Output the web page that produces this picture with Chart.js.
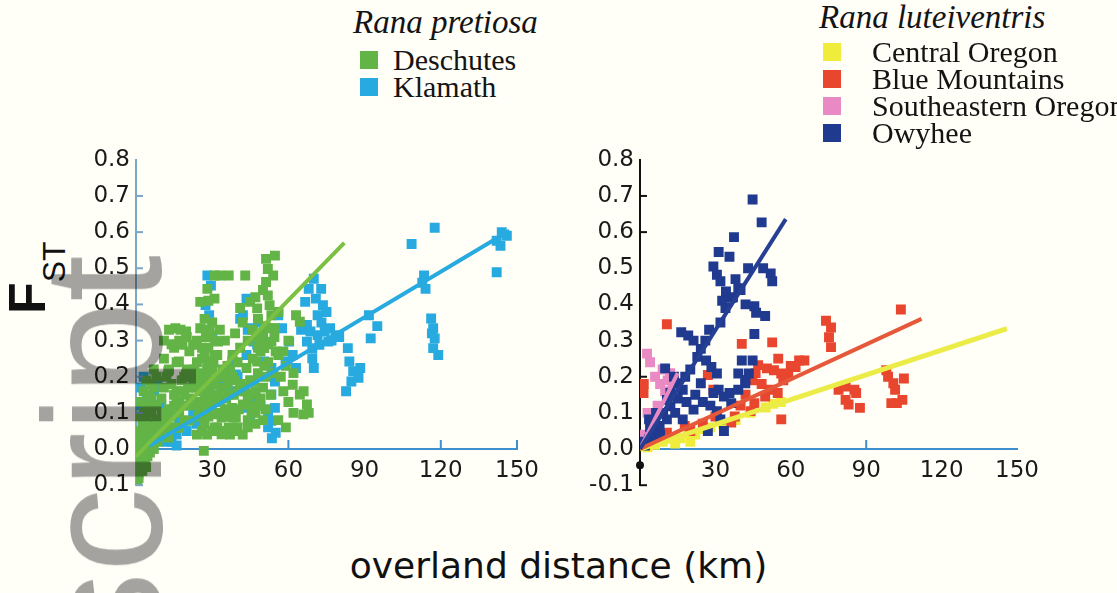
<!DOCTYPE html>
<html>
<head>
<meta charset="utf-8">
<title>FST vs overland distance</title>
<script src="https://cdn.jsdelivr.net/npm/chart.js@4.4.1/dist/chart.umd.min.js"></script>
<style>
  html, body { margin: 0; padding: 0; }
  body { width: 1117px; height: 593px; background: #fffef7; position: relative; overflow: hidden; }
  canvas { position: absolute; }
  #left { left: 80px; top: 140px; }
  #right { left: 584px; top: 140px; }
  .lg { position: absolute; white-space: nowrap; color: #141414; font-family: "Liberation Serif", serif; }
  .lg-title { font-style: italic; font-size: 33px; line-height: 34px; }
  .lg-item { font-size: 30px; line-height: 30px; }
  .sw { position: absolute; width: 18px; height: 18px; }
  #xtitle { position: absolute; left: 0; width: 1117px; top: 546px; text-align: center; font-family: "DejaVu Sans", sans-serif; font-size: 36px; line-height: 40px; color: #111; }
  #ytitle { position: absolute; left: 0; top: 0; white-space: nowrap; font-family: "Liberation Sans", sans-serif; line-height: 1; color: #111;
            transform-origin: 0 0; transform: translate(1px, 314px) rotate(-90deg); }
  #ytitle .f { font-weight: bold; font-size: 52px; }
  #ytitle .st { font-size: 32px; position: relative; top: 20px; }
  #mark { position: absolute; left: 0; top: 0; white-space: nowrap; font-family: "Liberation Sans", sans-serif; font-size: 168px; line-height: 1;
          color: #a4a4a4; mix-blend-mode: multiply; transform-origin: 0 0; transform: translate(19px, 255px) rotate(-90deg) translateX(-100%); }
</style>
</head>
<body>
<canvas id="left" width="467" height="365"></canvas>
<canvas id="right" width="463" height="365"></canvas>
<div id="xtitle">overland distance (km)</div>
<div id="ytitle"><span class="f">F</span><span class="st">ST</span></div>
<div id="mark">Author Manuscript</div>
<script>
// axis ticks
const distTicks = [30, 60, 90, 120, 150];
const fstTicks = [-0.1, 0, 0.1, 0.2, 0.3, 0.4, 0.5, 0.6, 0.7, 0.8];

// Rana pretiosa
const pretiosaNames = ['Deschutes', 'Klamath'];
const pretiosaColors = ['#62b446', '#27aadf'];

const deschutes = [
  [0.5,-0.09],[1,-0.07],[1.5,-0.05],[1,-0.03],[2,-0.01],[0.5,0.0],[2.5,0.01],[1.5,0.02],[3,0.03],[2,0.04],
  [1,0.05],[3.5,0.06],[2.5,0.07],[4,0.08],[1.5,0.09],[3,0.1],[5,0.11],[4,0.12],[2,0.13],[6,0.14],
  [5,0.15],[3,0.16],[7,0.17],[6,0.18],[4,0.19],[8,0.2],[7,0.22],[5.5,0.04],[6.5,0.06],[4.5,-0.02],
  [3.5,-0.04],[2,-0.06],[5,0.0],[7,0.02],[8,0.05],[9,0.08],[6,0.1],[8,0.12],
  [1,-0.08],[2.5,-0.06],[4,-0.05],[3,-0.02],[5.5,-0.01],[7,0.0],[6,0.03],[8.5,0.02],[10,0.04],[9,0.06],
  [11,0.07],[13,0.06],[12,0.1],[14,0.09],[15,0.12],[17,0.13],[16,0.16],[18.5,0.12],[19,0.15],[20.5,0.17],
  [21.5,0.13],[22,0.2],[23,0.17],[20,0.22],[18,0.19],[10,0.1],[8,0.08],
  [10,0.14],[11,0.17],[12,0.2],[13,0.22],[11,0.25],[14,0.18],[15,0.15],[16,0.13],[13,0.11],[12,0.08],
  [14,0.06],[17,0.1],[18,0.16],[19,0.2],[16,0.24],[15,0.28],[17,0.3],[15.5,0.334],[19.7,0.325],[18.3,0.288],
  [16.9,0.242],[12.7,0.215],[19.7,0.206],[20,0.12],[19,0.08],[16.9,0.059],[12.7,0.032],[21,0.078],
  [11,0.3],[13,0.33],[14,0.29],[17.5,0.33],[20,0.31],
  [22.5,0.288],[25.3,0.334],[29.5,0.315],[32.3,0.297],[30.9,0.26],[28.1,0.242],[25.3,0.206],[29.5,0.187],
  [33.7,0.169],[22.5,0.178],[25.3,0.16],[29.5,0.123],[30.9,0.096],[33.7,0.087],[25.3,0.096],[22,0.14],
  [24,0.12],[27,0.14],[26,0.18],[28,0.2],[24,0.24],[23,0.22],[27,0.26],[30,0.22],[32,0.2],[34,0.22],
  [31,0.15],[33,0.13],[35,0.11],[27,0.07],[31,0.06],[33.7,0.041],[26.7,-0.005],[25.3,0.407],[28.1,0.443],
  [30.9,0.48],[30.9,0.416],[27,0.36],[30,0.35],[33,0.33],[35,0.3],[24,0.3],[21,0.27],[26,0.28],
  [24,0.04],[26,0.05],[28,0.04],[30,0.05],[32,0.06],[24.5,0.09],[26.5,0.1],[28.5,0.09],[31.5,0.1],[25,0.13],
  [27.5,0.12],[30,0.14],[32.5,0.15],[24,0.17],[27,0.18],[29,0.16],[31,0.18],[25.5,0.21],[28,0.22],[30.5,0.24],
  [32,0.26],[26,0.25],[28.5,0.28],[31,0.3],[29,0.33],[27.5,0.31],[28.5,0.41],[33,0.48],[43,0.48],
  [34.5,0.05],[37,0.04],[39.5,0.05],[35,0.09],[38,0.1],[40.5,0.11],[35.5,0.14],[38.5,0.15],[40,0.16],
  [36,0.18],[39,0.19],[37,0.22],[34.5,0.2],
  [36.5,0.48],[44.9,0.407],[47.7,0.389],[36.5,0.151],[37.9,0.114],[39.3,0.087],[42.1,0.123],
  [44.9,0.151],[46.3,0.187],[43.5,0.224],[47.7,0.242],[50.5,0.279],[53.3,0.297],[54.7,0.334],[56.1,0.379],
  [36.5,0.059],[37.9,0.087],[38,0.2],[40,0.24],[41,0.28],[39,0.32],[42,0.35],[44,0.3],[46,0.33],[48,0.36],
  [49,0.3],[38,0.26],[36,0.23],[41,0.18],[43,0.16],[45,0.12],[40,0.06],[42,0.04],[44,0.08],[47,0.1],
  [49,0.14],[51,0.2],[52,0.24],[48,0.28],[50,0.32],[51.2,0.526],[51.9,0.498],[51.2,0.462],[51.9,0.425],
  [52.6,0.398],[53.3,0.37],[53.3,0.334],[54.7,0.535],[54,0.48],[50,0.44],[47,0.42],[41,0.39],
  [44,0.06],[47,0.07],[50,0.08],[45.5,0.1],[48.5,0.12],[51,0.11],[44,0.14],[47,0.16],[50,0.17],[53,0.15],
  [45,0.19],[48,0.21],[50.5,0.23],[54,0.21],[46,0.25],[49,0.27],[52,0.29],[55,0.27],[47.5,0.31],[51,0.34],
  [54.5,0.31],
  [61.7,0.178],[64.5,0.151],[67.3,0.123],[65.9,0.096],[57,0.2],[59,0.23],[58,0.16],[60,0.13],[62,0.1],
  [56,0.26],[63,0.37],[64.5,0.352],[60,0.3],[58,0.27],[62,0.21],[66,0.16],[68,0.1],[56,0.08],[59,0.06]
];

const klamath = [
  [117.6,0.612],[108.5,0.567],[142,0.576],[143.5,0.562],[142,0.489],[113.4,0.48],[112.7,0.46],[114,0.443],
  [116.2,0.361],[117,0.334],[117.6,0.306],[117,0.279],[116.5,0.32],[91.7,0.37],[92.4,0.306],[83.4,0.279],
  [84,0.242],[85.5,0.215],[84.8,0.187],[82.7,0.16],[88.3,0.224],[87.6,0.197],[70,0.471],[72.9,0.443],
  [70.8,0.416],[73.6,0.398],[71.5,0.37],[75,0.379],[67.3,0.343],[68.7,0.325],[71.5,0.315],[74.3,0.325],
  [76.4,0.334],[78.5,0.315],[75.7,0.297],[72.2,0.288],[69.4,0.279],[67.3,0.297],[70,0.224],[69.4,0.251],
  [56,0.37],[57.5,0.334],[60.3,0.297],[61.7,0.26],[58.9,0.242],[53.3,0.224],[54.7,0.187],[53.3,0.151],
  [54.7,0.114],[53.3,0.078],[43.5,0.416],[42.1,0.37],[44.9,0.334],[46.3,0.297],[28.1,0.48],[29.5,0.452],
  [27.4,0.398],[28.8,0.37],[37.9,0.242],[39.3,0.206],[33.7,0.187],[36.5,0.151],[42.1,0.114],[44.9,0.078],
  [7.1,0.16],[9.9,0.123],[12.7,0.096],[16.9,0.078],[10.6,0.059],[5.7,0.059],[8.5,0.187],[4.3,0.133],
  [5.7,0.023],[9.9,0.041],[14.1,0.059],[18.3,0.078],[22.5,0.105],[25.3,0.123],[30.9,0.151],[35.1,0.178],
  [43.5,0.26],[47.7,0.288],[50.5,0.242],[63,0.224],[66.6,0.407],[68,0.443],[3,0.2],[2,0.17],[1.5,0.12],
  [3,0.08],[12,0.02],[16,0.04],[20,0.05],[24,0.07],[65,0.33],[73,0.35],[77,0.3],[80,0.31],[95,0.34],
  [119,0.26],[146,0.59],[144,0.6],[52,0.06],[53.5,0.03],[55,0.045],
  [28.5,0.33],[30,0.31],[41,0.36],[44,0.33],[48,0.35],[50,0.31],[37,0.22],[40,0.2],[43,0.17],[46,0.14],
  [49,0.12],[52,0.1],[38,0.16],[45,0.19],[6,0.07],[8,0.03],[11,0.05],[14,0.02],[16,0.01],[36,0.17],[47,0.15]
];

// regression lines
const deschutesFit = [[0,-0.02],[82,0.57]];
const klamathFit = [[5,0.008],[147,0.604]];

// Rana luteiventris
const luteiNames = ['Central Oregon', 'Blue Mountains', 'Southeastern Oregon', 'Owyhee'];
const luteiColors = ['#f0ec3c', '#e8462e', '#e98ac4', '#1f3a8f'];

const centralOregon = [
  [3,0.005],[6,0.012],[9,0.02],[12,0.028],[16,0.03],[19,0.045],[22,0.04],[25,0.055],[28,0.06],
  [33,0.07],[38,0.08],[44,0.1],[50,0.115],[53,0.125],[56,0.13],[20,0.02],[14,0.015]
];

const blueMountains = [
  [103.8,0.386],[74,0.355],[76,0.336],[75.2,0.309],[76,0.282],[52.6,0.295],[40.5,0.291],[10.7,0.345],
  [65.4,0.245],[63.3,0.245],[47,0.232],[50.5,0.223],[53.3,0.218],[56.2,0.209],[59,0.205],[61.9,0.227],
  [44.8,0.19],[48.4,0.18],[52,0.164],[54.8,0.155],[49.8,0.145],[45.5,0.127],[27,0.205],[29.2,0.164],
  [44,0.105],[56.2,0.082],[79,0.164],[81.8,0.173],[85.3,0.164],[81.8,0.136],[86,0.155],[83,0.123],
  [87.5,0.114],[98,0.218],[98.7,0.2],[100.8,0.182],[105,0.195],[101.5,0.164],[100,0.127],[102.2,0.127],
  [104.4,0.136],[1.4,0.155],[36.3,0.073],[37.7,0.09],[10.7,0.045],[17.8,0.064],[40,0.12],[42,0.15],
  [46,0.21],[57,0.19],[60,0.23],[55,0.25],[20,0.05],[25,0.07],[30,0.09],[1.5,0.18]
];

const seOregon = [
  [2.8,0.264],[4,0.24],[6,0.2],[8,0.18],[10,0.16],[12,0.21],[3,0.1],[5,0.06],[7,0.12],[1,0.04],
  [2,0.02],[9,0.22],[11,0.19],[13,0.17]
];

const owyhee = [
  [44.8,0.69],[48.4,0.627],[37.4,0.586],[31.3,0.545],[35.6,0.532],[29.2,0.505],[30.6,0.482],[32,0.464],
  [52,0.486],[52.6,0.464],[49,0.5],[34.2,0.436],[36.4,0.418],[32.7,0.41],[39.1,0.445],[42,0.4],
  [45.5,0.395],[46.2,0.377],[49.8,0.368],[45.5,0.318],[16.4,0.323],[19.2,0.314],[21.3,0.3],[24.2,0.277],
  [22.8,0.255],[26.3,0.245],[28.4,0.227],[30.6,0.209],[10,0.223],[13.5,0.2],[14.9,0.182],[17,0.164],
  [12.1,0.155],[10.7,0.136],[24.2,0.182],[29.2,0.155],[31.3,0.164],[33.4,0.145],[35.6,0.155],[39.1,0.164],
  [41.9,0.182],[43.3,0.209],[40.5,0.245],[44.8,0.245],[39.1,0.209],[41.9,0.191],[36.3,0.127],[21.3,0.109],
  [17,0.082],[30.6,0.105],[32,0.082],[27,0.05],[33.4,0.05],[7.8,0.064],[10.7,0.082],[9.2,0.1],[5,0.045],
  [3.6,0.027],[6.4,0.1],[12.1,0.118],[3.6,0.082],[2,0.01],[1,0.02],[4,0.06],[6,0.03],[8,0.04],[14,0.1],
  [15,0.14],[18,0.2],[20,0.22],[18.5,0.13],[26,0.3],[27.5,0.33],[37,0.42],[38,0.47],[40,0.44],[43,0.5],
  [34,0.39],[32,0.35],[22,0.15],[25,0.13],[28,0.12]
];

const centralFit = [[0,0],[146,0.333]];
const blueMtnFit = [[0,0],[112,0.36]];
const seOregonFit = [[0,0],[15,0.21]];
const owyheeFit = [[0,0],[58,0.636]];

Chart.defaults.font.family = '"DejaVu Sans", sans-serif';
Chart.defaults.color = '#1a1a1a';

function toXY(pts) {
  return pts.map(p => ({ x: p[0], y: p[1] }));
}

function dots(label, pts, color) {
  return {
    label: label, data: toXY(pts), backgroundColor: color, borderWidth: 0,
    pointStyle: 'rect', pointRadius: 7, pointHoverRadius: 7
  };
}

function fit(label, pts, color, width) {
  return {
    label: label, data: toXY(pts), showLine: true, borderColor: color, borderWidth: width,
    pointRadius: 0, pointHoverRadius: 0, fill: false
  };
}

// small inward tick marks and the origin dot
const tickMarks = {
  id: 'tickMarks',
  afterDraw(chart, args, o) {
    const ctx = chart.ctx;
    const x = chart.scales.x, y = chart.scales.y;
    const x0 = x.getPixelForValue(0), y0 = y.getPixelForValue(0);
    ctx.save();
    ctx.lineWidth = 2;
    ctx.strokeStyle = o.xColor;
    o.xMarks.forEach(v => {
      const px = x.getPixelForValue(v);
      ctx.beginPath(); ctx.moveTo(px, y0); ctx.lineTo(px, y0 - 9); ctx.stroke();
    });
    ctx.strokeStyle = o.yColor;
    o.yMarks.forEach(v => {
      const py = y.getPixelForValue(v);
      ctx.beginPath(); ctx.moveTo(x0, py); ctx.lineTo(x0 + 7, py); ctx.stroke();
    });
    if (o.dot) {
      ctx.fillStyle = '#111';
      ctx.beginPath();
      ctx.arc(x0, y.getPixelForValue(-0.045), 4, 0, Math.PI * 2);
      ctx.fill();
    }
    ctx.restore();
  }
};

function makeChart(id, datasets, yColor, yFormat, marks) {
  return new Chart(document.getElementById(id), {
    type: 'scatter',
    data: { datasets: datasets },
    options: {
      responsive: false,
      animation: false,
      layout: { padding: { left: 0, right: 30, top: 18, bottom: 18 } },
      plugins: {
        legend: { display: false },
        tooltip: { enabled: false },
        tickMarks: marks
      },
      scales: {
        x: {
          type: 'linear', min: 0, max: 150,
          position: { y: 0 },
          afterBuildTicks: s => { s.ticks = distTicks.map(v => ({ value: v })); },
          ticks: { autoSkip: false, maxRotation: 0, padding: 8, font: { size: 23 }, color: '#1a1a1a' },
          grid: { display: false, drawTicks: false },
          border: { display: true, color: '#3d8fcf', width: 2 }
        },
        y: {
          type: 'linear', min: -0.1, max: 0.8,
          afterBuildTicks: s => { s.ticks = fstTicks.map(v => ({ value: v })); },
          afterFit: s => { s.width = 56; },
          ticks: { autoSkip: false, padding: 6, font: { size: 23 }, color: '#1a1a1a', callback: yFormat },
          grid: { display: false, drawTicks: false },
          border: { display: true, color: yColor, width: 2 }
        }
      }
    },
    plugins: [tickMarks]
  });
}

makeChart('left', [
  fit('Deschutes fit', deschutesFit, '#79c043', 4),
  fit('Klamath fit', klamathFit, '#27aadf', 4),
  dots(pretiosaNames[0], deschutes, pretiosaColors[0]),
  dots(pretiosaNames[1], klamath, pretiosaColors[1])
], '#7aa6c8', v => Math.abs(v).toFixed(1),
  { xColor: '#3d8fcf', yColor: '#7aa6c8', xMarks: [60, 120, 150], yMarks: [0.7, 0.6, 0.5, 0.4, 0.3, 0.2, 0.1, -0.1], dot: false });

makeChart('right', [
  fit('Owyhee fit', owyheeFit, '#243f94', 4),
  fit('Blue Mountains fit', blueMtnFit, '#e5583a', 4),
  fit('Central Oregon fit', centralFit, '#ecec48', 5),
  fit('Southeastern Oregon fit', seOregonFit, '#e98ac4', 4),
  dots(luteiNames[3], owyhee, luteiColors[3]),
  dots(luteiNames[1], blueMountains, luteiColors[1]),
  dots(luteiNames[2], seOregon, luteiColors[2]),
  dots(luteiNames[0], centralOregon, luteiColors[0])
], '#111111', v => v.toFixed(1),
  { xColor: '#3d8fcf', yColor: '#111111', xMarks: [90], yMarks: [0.7, 0.6, 0.2, -0.1], dot: true });

// legends as page text
function legend(title, names, colors, titleX, titleY, swX, textX, rowY, rowStep) {
  const t = document.createElement('div');
  t.className = 'lg lg-title';
  t.textContent = title;
  t.style.left = titleX + 'px';
  t.style.top = (titleY - 17) + 'px';
  document.body.appendChild(t);
  names.forEach((name, i) => {
    const cy = rowY + i * rowStep;
    const sw = document.createElement('div');
    sw.className = 'sw';
    sw.style.background = colors[i];
    sw.style.left = swX + 'px';
    sw.style.top = (cy - 9) + 'px';
    document.body.appendChild(sw);
    const d = document.createElement('div');
    d.className = 'lg lg-item';
    d.textContent = name;
    d.style.left = textX + 'px';
    d.style.top = (cy - 15) + 'px';
    document.body.appendChild(d);
  });
}

legend('Rana pretiosa', pretiosaNames, pretiosaColors, 353, 22, 360, 393, 60, 27);
legend('Rana luteiventris', luteiNames, luteiColors, 819, 17, 823, 872, 52, 27);
</script>
</body>
</html>
